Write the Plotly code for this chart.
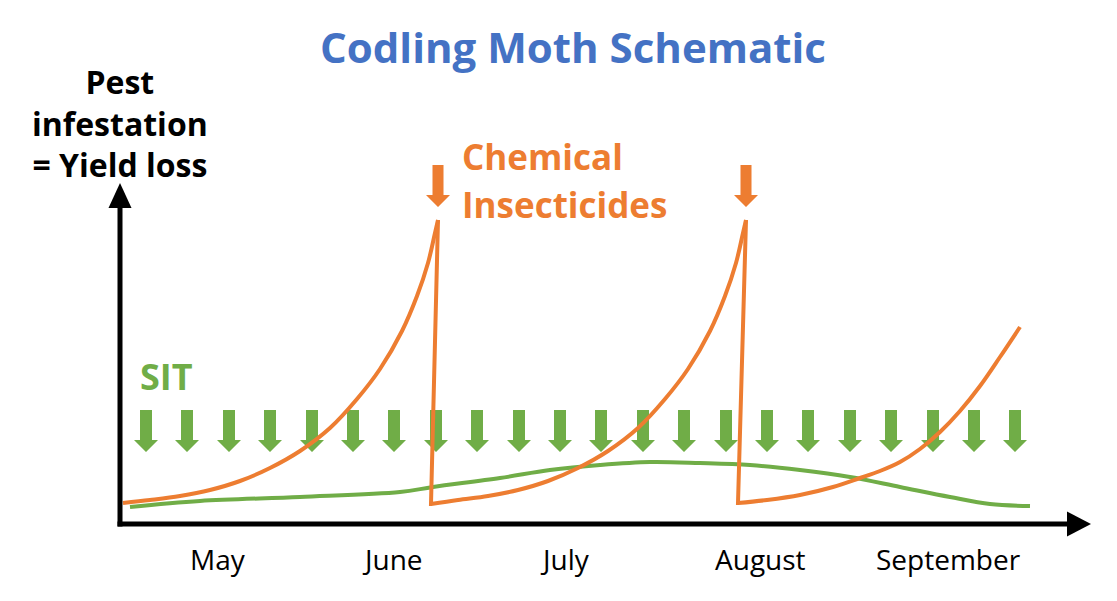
import plotly.graph_objects as go

# ---------------- data (schematic units: x = season progress, y = infestation) ----------
# Orange: pest pressure under chemical insecticides (grows, knocked down by each spray)
growth1_x = [3, 30, 60, 90, 120, 150, 180, 210, 237, 260, 282, 297, 308, 315, 318]
growth1_y = [21, 24, 28, 34, 43, 56, 73, 96, 125, 155, 193, 228, 261, 291, 304]
growth2_x = [311, 338, 368, 398, 428, 458, 488, 518, 545, 568, 590, 605, 616, 623, 626]
growth2_y = [20, 24, 28, 34, 43, 56, 73, 96, 125, 155, 193, 228, 261, 291, 304]
growth3_x = [618, 647, 680, 713, 740, 760, 780, 800, 820, 840, 860, 880, 900]
growth3_y = [21, 24, 29, 37, 46, 53, 62, 75, 92, 113, 138, 167, 197]

spray_top_x = [318, 626]
spray_top_y = [304, 304]
spray_bottom_x = [311, 618]
spray_bottom_y = [20, 21]

# Green: pest pressure under SIT (sterile insect releases)
sit_x = [10, 80, 180, 280, 313, 380, 430, 480, 530, 580, 630, 680, 730, 780, 830, 870, 910]
sit_y = [17, 23, 27, 32, 37, 46, 54, 59, 62, 61, 59, 54, 47, 37, 27, 20, 18]
sit_release_x = [26, 67, 109, 150, 192, 233, 274, 316, 357, 399, 440,
                 481, 523, 564, 606, 647, 688, 730, 771, 813, 854, 895]

month_labels = ["May", "June", "July", "August", "September"]
month_x = [98, 272, 445, 640, 828]

ORANGE = "#ED7D31"
GREEN = "#70AD47"
BLUE = "#4472C4"
FONT = "Open Sans"


def down_arrows(xs, top, head_base, tip, shaft_half, head_half):
    px, py = [], []
    for x in xs:
        px += [x - shaft_half, x + shaft_half, x + shaft_half, x + head_half,
               x, x - head_half, x - shaft_half, x - shaft_half, None]
        py += [top, top, head_base, head_base, tip, head_base, head_base, top, None]
    return px, py


fig = go.Figure()

# SIT release arrows
ax_, ay_ = down_arrows(sit_release_x, 114, 84, 72, 6, 12)
fig.add_trace(go.Scatter(x=ax_, y=ay_, mode="lines", fill="toself", fillcolor=GREEN,
                         line=dict(width=0, color=GREEN), hoverinfo="skip"))

# SIT curve
fig.add_trace(go.Scatter(x=sit_x, y=sit_y, mode="lines",
                         line=dict(color=GREEN, width=4, shape="spline"), hoverinfo="skip"))

# Chemical curves
for gx, gy in [(growth1_x, growth1_y), (growth2_x, growth2_y), (growth3_x, growth3_y)]:
    fig.add_trace(go.Scatter(x=gx, y=gy, mode="lines",
                             line=dict(color=ORANGE, width=4, shape="spline"), hoverinfo="skip"))
for tx, ty, bx, by in zip(spray_top_x, spray_top_y, spray_bottom_x, spray_bottom_y):
    fig.add_trace(go.Scatter(x=[tx, bx, bx + 1], y=[ty, by, by], mode="lines",
                             line=dict(color=ORANGE, width=4), hoverinfo="skip"))

# Spray arrows
ox, oy = down_arrows(spray_top_x, 359, 329, 317, 5.5, 12)
fig.add_trace(go.Scatter(x=ox, y=oy, mode="lines", fill="toself", fillcolor=ORANGE,
                         line=dict(width=0, color=ORANGE), hoverinfo="skip"))

# Axes drawn as arrows
fig.add_trace(go.Scatter(x=[0, 0], y=[-2.5, 318], mode="lines",
                         line=dict(color="black", width=5), hoverinfo="skip"))
fig.add_trace(go.Scatter(x=[-11.5, 11.5, 0, -11.5], y=[316, 316, 341, 316], mode="lines",
                         fill="toself", fillcolor="black", line=dict(width=0, color="black"),
                         hoverinfo="skip"))
fig.add_trace(go.Scatter(x=[-2.5, 949], y=[0, 0], mode="lines",
                         line=dict(color="black", width=5), hoverinfo="skip"))
fig.add_trace(go.Scatter(x=[947, 947, 971, 947], y=[12.5, -12.5, 0, 12.5], mode="lines",
                         fill="toself", fillcolor="black", line=dict(width=0, color="black"),
                         hoverinfo="skip"))

annotations = []
# Title
annotations.append(dict(x=453, y=478, text="<b>Codling Moth Schematic</b>", showarrow=False,
                        xanchor="center", yanchor="middle",
                        font=dict(family=FONT, size=42, color=BLUE)))
# Y-axis label (one multi-line text)
annotations.append(dict(x=0, y=401, text="<b>Pest<br>infestation<br>= Yield loss</b>",
                        showarrow=False, xanchor="center", yanchor="middle", align="center",
                        font=dict(family=FONT, size=32, color="black")))
# Chemical insecticides label
for txt, yy in [("Chemical", 368), ("Insecticides", 320)]:
    annotations.append(dict(x=340, y=yy, text="<b>%s</b>" % txt, showarrow=False,
                            xanchor="left", yanchor="middle",
                            font=dict(family=FONT, size=35, color=ORANGE)))
# SIT label
annotations.append(dict(x=18, y=148, text="<b>SIT</b>", showarrow=False,
                        xanchor="left", yanchor="middle",
                        font=dict(family=FONT, size=36, color=GREEN)))
# Month labels
for m, mx in zip(month_labels, month_x):
    annotations.append(dict(x=mx, y=-35, text=m, showarrow=False,
                            xanchor="center", yanchor="middle",
                            font=dict(family=FONT, size=28, color="black")))

fig.update_layout(
    width=1117, height=601,
    margin=dict(l=0, r=0, t=0, b=0),
    paper_bgcolor="white", plot_bgcolor="white",
    showlegend=False, hovermode=False,
    annotations=annotations,
    xaxis=dict(range=[-120, 997], visible=False, fixedrange=True),
    yaxis=dict(range=[-77, 524], visible=False, fixedrange=True),
)

fig.write_html("out.html")
